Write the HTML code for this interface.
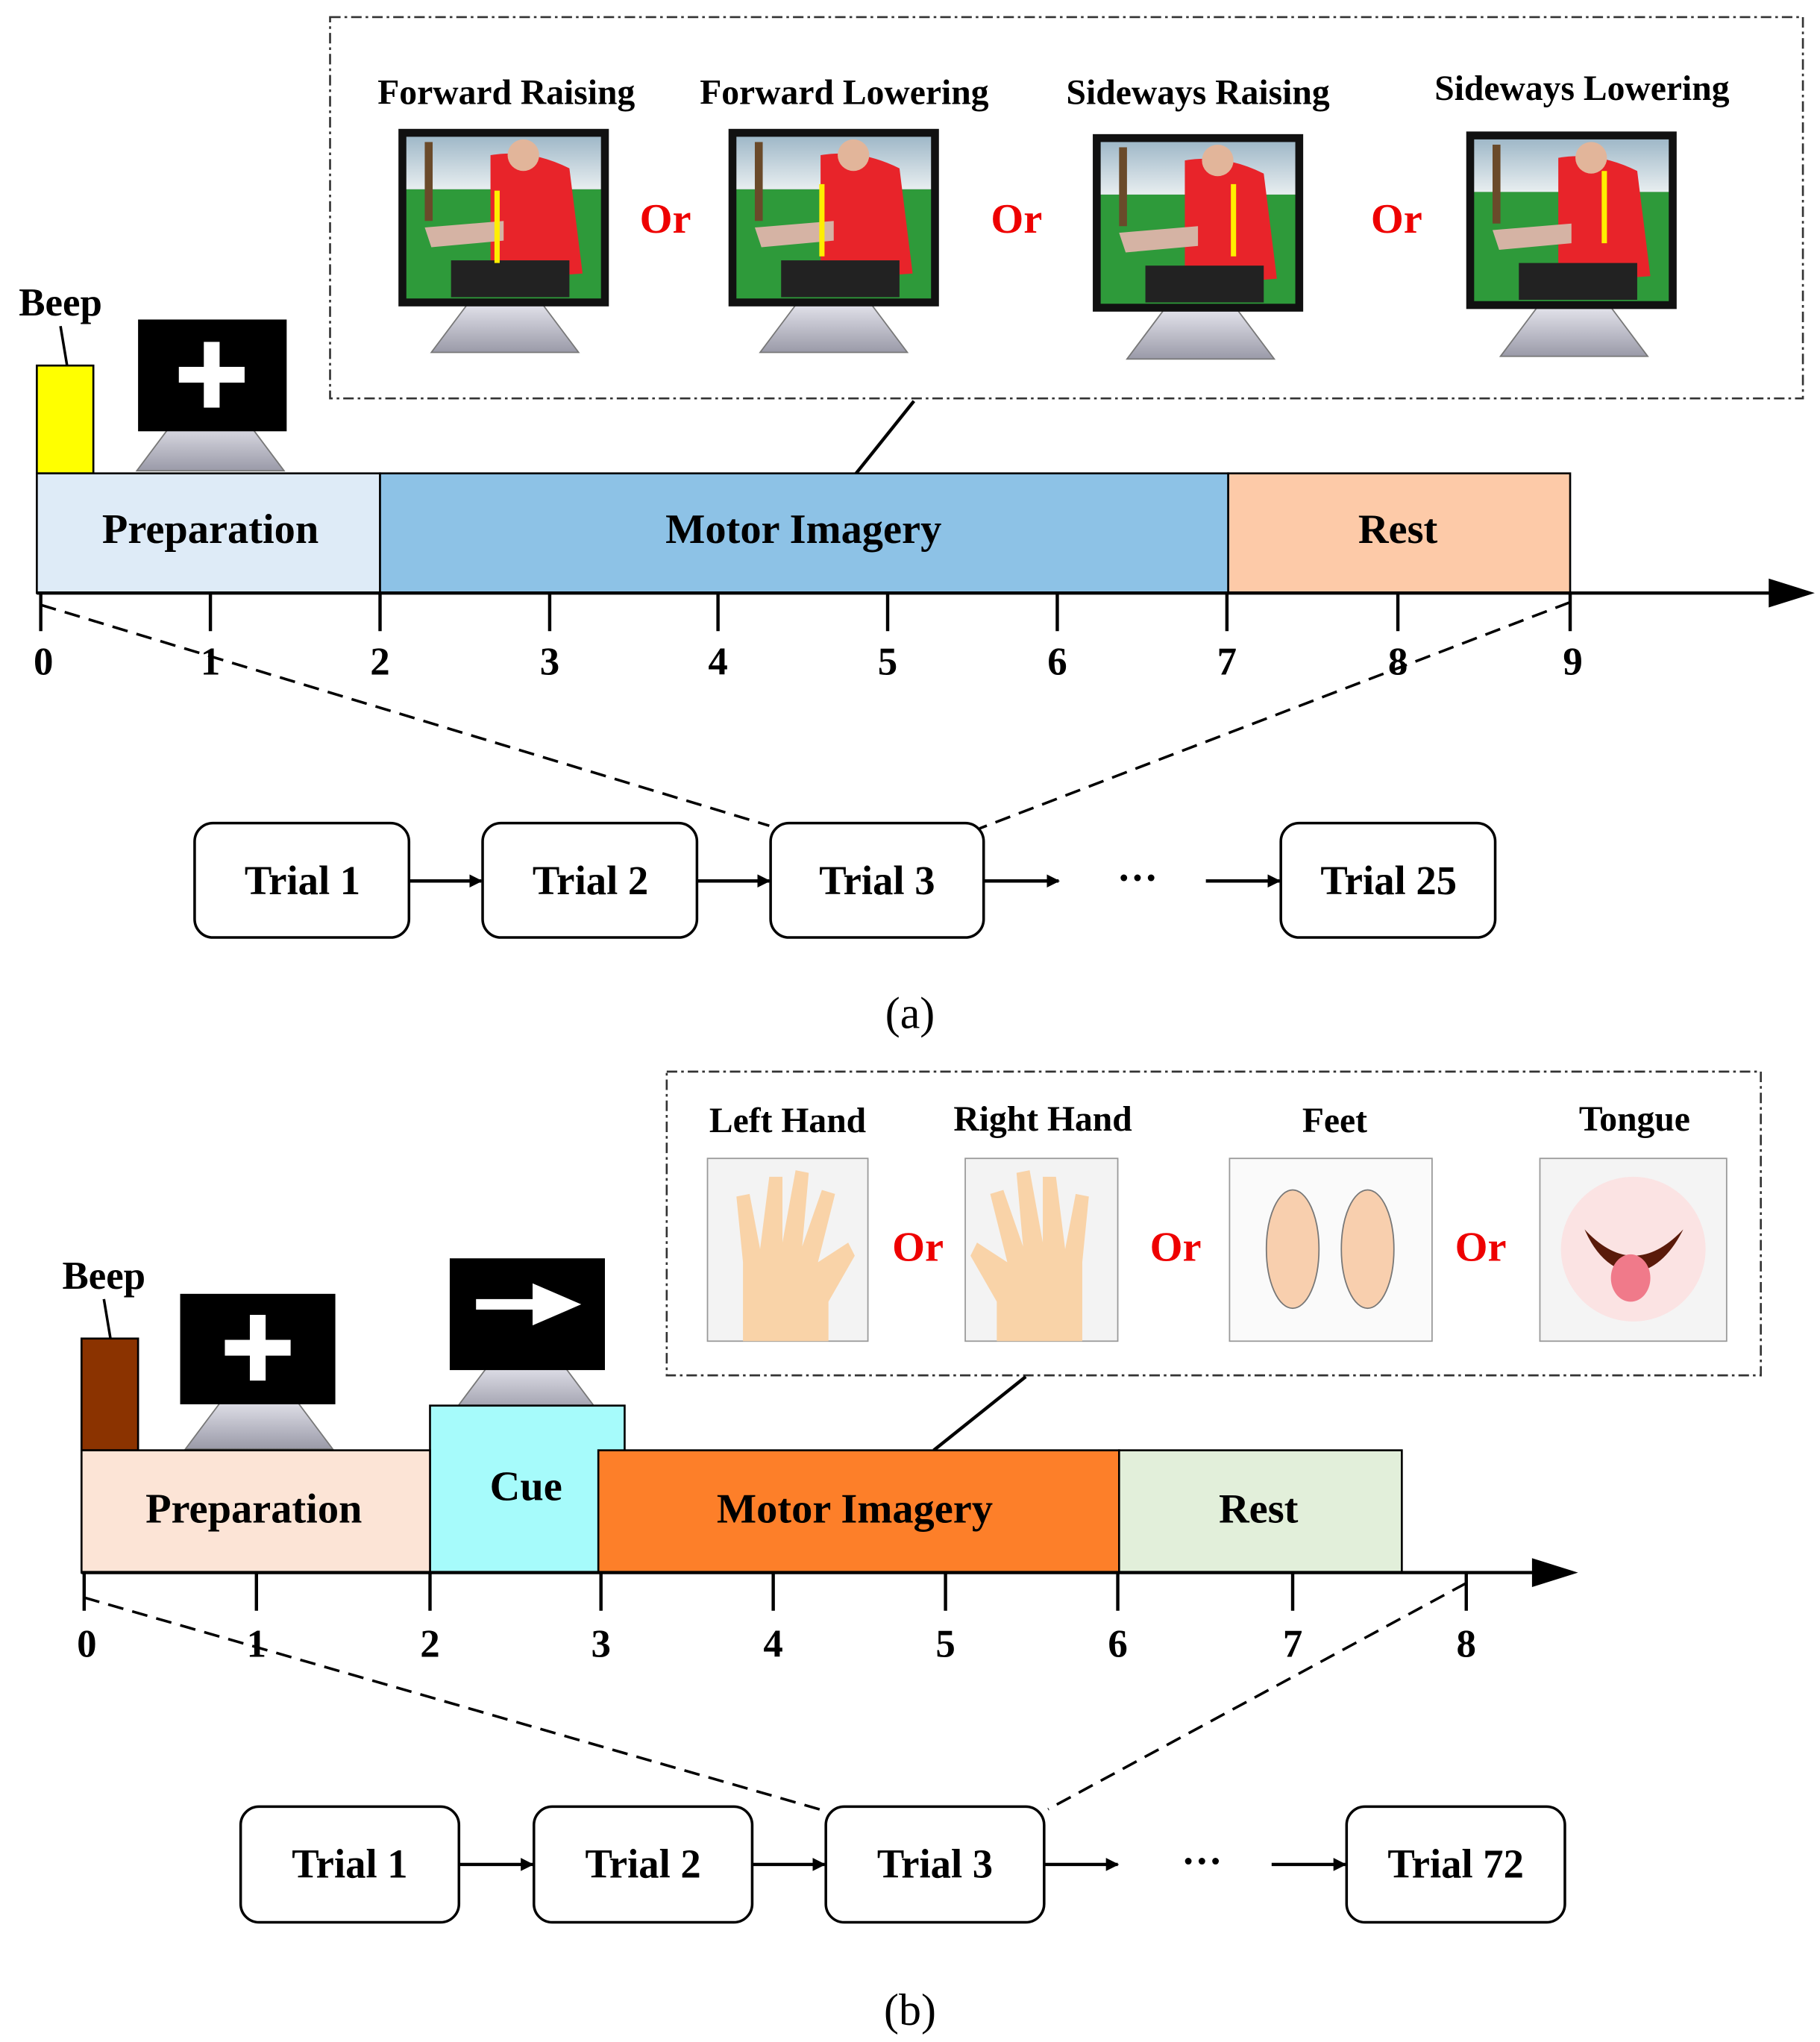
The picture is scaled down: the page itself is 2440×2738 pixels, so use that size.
<!DOCTYPE html>
<html><head><meta charset="utf-8"><style>html,body{margin:0;padding:0;background:#fff}svg{display:block}text{font-family:"Liberation Serif",serif;font-weight:bold;fill:#000}</style></head><body>
<svg width="2440" height="2738" viewBox="0 0 1384 1553" xmlns="http://www.w3.org/2000/svg">
<defs>
<marker id="ar" markerWidth="10" markerHeight="10" refX="9" refY="5" orient="auto" markerUnits="userSpaceOnUse"><path d="M0,0 L10,5 L0,10 z" fill="#000"/></marker>
<linearGradient id="sky" x1="0" y1="0" x2="0" y2="1"><stop offset="0" stop-color="#9fb8c8"/><stop offset="1" stop-color="#e8eef0"/></linearGradient>
<linearGradient id="base" x1="0" y1="0" x2="0" y2="1"><stop offset="0" stop-color="#e8e8f0"/><stop offset="1" stop-color="#9a9aa8"/></linearGradient>
<g id="avatar">
<rect x="0" y="0" width="160" height="135" fill="#111"/>
<rect x="6" y="6" width="148" height="40" fill="url(#sky)"/>
<rect x="6" y="46" width="148" height="83" fill="#2e9a3a"/>
<rect x="20" y="10" width="6" height="60" fill="#6a4a2a"/>
<path d="M70,20 Q100,15 130,30 L140,110 L70,115 Z" fill="#e8242a"/>
<circle cx="95" cy="20" r="12" fill="#e2b59a"/>
<rect x="40" y="100" width="90" height="28" fill="#222"/>
<path d="M20,75 L80,70 L80,85 L25,90 Z" fill="#d5b3a4"/>
</g>
<g id="mon"><path d="M-26,0 L26,0 L56,40 L-56,40 Z" fill="url(#base)" stroke="#777"/></g>
</defs>

<!-- ===== Panel (a) ===== -->
<rect x="251" y="13" width="1120" height="290" fill="none" stroke="#333" stroke-width="1.5" stroke-dasharray="8,3,2,3"/>
<g font-size="27" text-anchor="middle">
<text x="385" y="79">Forward Raising</text>
<text x="642" y="79">Forward Lowering</text>
<text x="911" y="79">Sideways Raising</text>
<text x="1203" y="76">Sideways Lowering</text>
</g>
<use href="#mon" x="384" y="228"/><use href="#avatar" x="303" y="98"/>
<use href="#mon" x="634" y="228"/><use href="#avatar" x="554" y="98"/>
<use href="#mon" x="913" y="233"/><use href="#avatar" x="831" y="102"/>
<use href="#mon" x="1197" y="231"/><use href="#avatar" x="1115" y="100"/>
<g stroke="#ffee00" stroke-width="4"><line x1="378" y1="200" x2="378" y2="145"/><line x1="625" y1="140" x2="625" y2="195"/><line x1="938" y1="195" x2="938" y2="140"/><line x1="1220" y1="130" x2="1220" y2="185"/></g>
<g font-size="32" fill="#e00" text-anchor="middle"><text x="506" y="177" style="fill:#e00">Or</text><text x="773" y="177" style="fill:#e00">Or</text><text x="1062" y="177" style="fill:#e00">Or</text></g>
<line x1="651" y1="360" x2="695" y2="305" stroke="#000" stroke-width="2.5"/>
<text x="46" y="240" font-size="30" text-anchor="middle">Beep</text>
<line x1="46" y1="248" x2="51" y2="278" stroke="#000" stroke-width="2"/>
<rect x="28" y="278" width="43" height="82" fill="#ffff00" stroke="#000" stroke-width="1.5"/>
<use href="#mon" x="160" y="318" transform="translate(0,0)"/>
<rect x="105" y="243" width="113" height="85" fill="#000"/>
<rect x="155" y="260" width="12" height="50" fill="#fff"/><rect x="136" y="279" width="50" height="12" fill="#fff"/>
<rect x="28" y="360" width="261" height="91" fill="#deebf7" stroke="#000" stroke-width="1.5"/>
<rect x="289" y="360" width="645" height="91" fill="#8dc2e6" stroke="#000" stroke-width="1.5"/>
<rect x="934" y="360" width="260" height="91" fill="#fdcaa8" stroke="#000" stroke-width="1.5"/>
<g font-size="32" text-anchor="middle"><text x="160" y="413">Preparation</text><text x="611" y="413">Motor Imagery</text><text x="1063" y="413">Rest</text></g>
<line x1="28" y1="451" x2="1352" y2="451" stroke="#000" stroke-width="2.5"/>
<path d="M1345,440 L1380,451 L1345,462 Z" fill="#000"/>
<g stroke="#000" stroke-width="2.5">
<line x1="31" y1="451" x2="31" y2="480"/><line x1="160" y1="451" x2="160" y2="480"/><line x1="289" y1="451" x2="289" y2="480"/><line x1="418" y1="451" x2="418" y2="480"/><line x1="546" y1="451" x2="546" y2="480"/><line x1="675" y1="451" x2="675" y2="480"/><line x1="804" y1="451" x2="804" y2="480"/><line x1="933" y1="451" x2="933" y2="480"/><line x1="1063" y1="451" x2="1063" y2="480"/><line x1="1194" y1="451" x2="1194" y2="480"/>
</g>
<g font-size="30" text-anchor="middle"><text x="33" y="513">0</text><text x="160" y="513">1</text><text x="289" y="513">2</text><text x="418" y="513">3</text><text x="546" y="513">4</text><text x="675" y="513">5</text><text x="804" y="513">6</text><text x="933" y="513">7</text><text x="1063" y="513">8</text><text x="1196" y="513">9</text></g>
<g stroke="#000" stroke-width="2" stroke-dasharray="12,7" fill="none"><line x1="31" y1="460" x2="585" y2="628"/><line x1="1194" y1="458" x2="745" y2="630"/></g>
<g fill="#fff" stroke="#000" stroke-width="2">
<rect x="148" y="626" width="163" height="87" rx="14"/><rect x="367" y="626" width="163" height="87" rx="14"/><rect x="586" y="626" width="162" height="87" rx="14"/><rect x="974" y="626" width="163" height="87" rx="14"/></g>
<g font-size="31" text-anchor="middle"><text x="230" y="680">Trial 1</text><text x="449" y="680">Trial 2</text><text x="667" y="680">Trial 3</text><text x="1056" y="680">Trial 25</text><text x="865" y="678">···</text></g>
<g stroke="#000" stroke-width="2.5" marker-end="url(#ar)"><line x1="311" y1="670" x2="366" y2="670"/><line x1="530" y1="670" x2="585" y2="670"/><line x1="748" y1="670" x2="805" y2="670"/><line x1="917" y1="670" x2="973" y2="670"/></g>
<text x="692" y="782" font-size="34" text-anchor="middle" style="font-weight:normal">(a)</text>

<!-- ===== Panel (b) ===== -->
<rect x="507" y="815" width="832" height="231" fill="none" stroke="#333" stroke-width="1.5" stroke-dasharray="8,3,2,3"/>
<g font-size="27" text-anchor="middle"><text x="599" y="861">Left Hand</text><text x="793" y="860">Right Hand</text><text x="1015" y="861">Feet</text><text x="1243" y="860">Tongue</text></g>
<rect x="538" y="881" width="122" height="139" fill="#f3f3f3" stroke="#999"/>
<path d="M565,1020 L565,960 L560,910 L570,908 L578,950 L585,895 L595,895 L595,945 L605,890 L615,892 L610,948 L625,905 L635,908 L622,960 L645,945 L650,955 L630,990 L630,1020 Z" fill="#f9d3a8"/>
<rect x="734" y="881" width="116" height="139" fill="#f3f3f3" stroke="#999"/>
<path d="M823,1020 L823,960 L828,910 L818,908 L810,950 L803,895 L793,895 L793,945 L783,890 L773,892 L778,948 L763,905 L753,908 L766,960 L743,945 L738,955 L758,990 L758,1020 Z" fill="#f9d3a8"/>
<rect x="935" y="881" width="154" height="139" fill="#fafafa" stroke="#999"/>
<ellipse cx="983" cy="950" rx="20" ry="45" fill="#f8cfae" stroke="#777"/><ellipse cx="1040" cy="950" rx="20" ry="45" fill="#f8cfae" stroke="#777"/>
<rect x="1171" y="881" width="142" height="139" fill="#f4f4f4" stroke="#999"/>
<circle cx="1242" cy="950" r="55" fill="#fbe3e3"/>
<path d="M1205,935 Q1242,975 1280,935 Q1265,965 1242,968 Q1218,965 1205,935 Z" fill="#5a1a0a"/>
<ellipse cx="1240" cy="972" rx="15" ry="18" fill="#f07a8a"/>
<g font-size="32" text-anchor="middle"><text x="698" y="959" style="fill:#e00">Or</text><text x="894" y="959" style="fill:#e00">Or</text><text x="1126" y="959" style="fill:#e00">Or</text></g>
<line x1="710" y1="1103" x2="780" y2="1047" stroke="#000" stroke-width="2.5"/>
<text x="79" y="980" font-size="30" text-anchor="middle">Beep</text>
<line x1="79" y1="988" x2="84" y2="1018" stroke="#000" stroke-width="2"/>
<rect x="62" y="1018" width="43" height="85" fill="#8b3300" stroke="#000" stroke-width="1.5"/>
<use href="#mon" x="197" y="1062"/>
<rect x="137" y="984" width="118" height="84" fill="#000"/>
<rect x="190" y="1000" width="12" height="50" fill="#fff"/><rect x="171" y="1019" width="50" height="12" fill="#fff"/>
<use href="#mon" x="400" y="1035"/>
<rect x="342" y="957" width="118" height="85" fill="#000"/>
<rect x="362" y="988" width="50" height="8" fill="#fff"/><path d="M405,976 L442,992 L405,1008 Z" fill="#fff"/>
<rect x="327" y="1069" width="148" height="127" fill="#a6fbfb" stroke="#000" stroke-width="1.5"/>
<rect x="62" y="1103" width="265" height="93" fill="#fce4d6" stroke="#000" stroke-width="1.5"/>
<rect x="455" y="1103" width="396" height="93" fill="#fd7f29" stroke="#000" stroke-width="1.5"/>
<rect x="851" y="1103" width="215" height="93" fill="#e2efda" stroke="#000" stroke-width="1.5"/>
<g font-size="32" text-anchor="middle"><text x="193" y="1158">Preparation</text><text x="400" y="1141">Cue</text><text x="650" y="1158">Motor Imagery</text><text x="957" y="1158">Rest</text></g>
<line x1="62" y1="1196" x2="1172" y2="1196" stroke="#000" stroke-width="2.5"/>
<path d="M1165,1185 L1200,1196 L1165,1207 Z" fill="#000"/>
<g stroke="#000" stroke-width="2.5">
<line x1="64" y1="1196" x2="64" y2="1225"/><line x1="195" y1="1196" x2="195" y2="1225"/><line x1="327" y1="1196" x2="327" y2="1225"/><line x1="457" y1="1196" x2="457" y2="1225"/><line x1="588" y1="1196" x2="588" y2="1225"/><line x1="719" y1="1196" x2="719" y2="1225"/><line x1="850" y1="1196" x2="850" y2="1225"/><line x1="983" y1="1196" x2="983" y2="1225"/><line x1="1115" y1="1196" x2="1115" y2="1225"/>
</g>
<g font-size="30" text-anchor="middle"><text x="66" y="1260">0</text><text x="195" y="1260">1</text><text x="327" y="1260">2</text><text x="457" y="1260">3</text><text x="588" y="1260">4</text><text x="719" y="1260">5</text><text x="850" y="1260">6</text><text x="983" y="1260">7</text><text x="1115" y="1260">8</text></g>
<g stroke="#000" stroke-width="2" stroke-dasharray="12,7" fill="none"><line x1="64" y1="1215" x2="630" y2="1378"/><line x1="1115" y1="1204" x2="797" y2="1376"/></g>
<g fill="#fff" stroke="#000" stroke-width="2">
<rect x="183" y="1374" width="166" height="88" rx="14"/><rect x="406" y="1374" width="166" height="88" rx="14"/><rect x="628" y="1374" width="166" height="88" rx="14"/><rect x="1024" y="1374" width="166" height="88" rx="14"/></g>
<g font-size="31" text-anchor="middle"><text x="266" y="1428">Trial 1</text><text x="489" y="1428">Trial 2</text><text x="711" y="1428">Trial 3</text><text x="1107" y="1428">Trial 72</text><text x="914" y="1426">···</text></g>
<g stroke="#000" stroke-width="2.5" marker-end="url(#ar)"><line x1="349" y1="1418" x2="405" y2="1418"/><line x1="572" y1="1418" x2="627" y2="1418"/><line x1="794" y1="1418" x2="850" y2="1418"/><line x1="967" y1="1418" x2="1023" y2="1418"/></g>
<text x="692" y="1540" font-size="34" text-anchor="middle" style="font-weight:normal">(b)</text>
</svg>
</body></html>
